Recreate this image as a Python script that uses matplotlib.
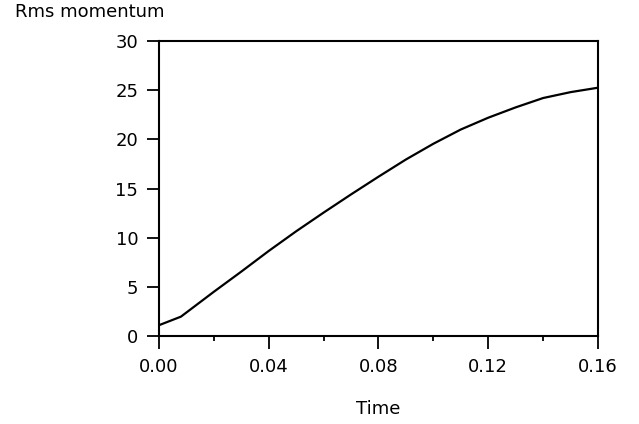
import matplotlib
matplotlib.use("Agg")
import matplotlib.pyplot as plt
from matplotlib.ticker import MultipleLocator

plt.rcParams['font.family'] = ['DejaVu Sans']

time = [0.0, 0.008, 0.02, 0.03, 0.04, 0.05, 0.06, 0.07, 0.08, 0.09,
        0.10, 0.11, 0.12, 0.13, 0.14, 0.15, 0.16]
rms_momentum = [1.1, 1.97, 4.5, 6.55, 8.65, 10.65, 12.55, 14.4, 16.2, 17.95,
                19.55, 21.0, 22.2, 23.25, 24.2, 24.8, 25.25]

x_ticks = [0.00, 0.04, 0.08, 0.12, 0.16]
x_tick_labels = ['0.00', '0.04', '0.08', '0.12', '0.16']
y_ticks = [0, 5, 10, 15, 20, 25, 30]

fig = plt.figure(figsize=(6.39, 4.24), dpi=100)
ax = fig.add_axes([0.2488, 0.2075, 0.687, 0.6958])

ax.plot(time, rms_momentum, color='black', lw=1.6)

ax.set_xlim(0, 0.16)
ax.set_ylim(0, 30)
ax.set_xticks(x_ticks)
ax.set_xticklabels(x_tick_labels)
ax.xaxis.set_minor_locator(MultipleLocator(0.02))
ax.set_yticks(y_ticks)

for s in ax.spines.values():
    s.set_linewidth(1.5)
    s.set_color('black')

ax.tick_params(axis='both', which='major', direction='out', length=9, width=1.3,
               labelsize=13, pad=6)
ax.tick_params(axis='x', which='major', pad=7)
ax.tick_params(axis='x', which='minor', direction='out', length=3.5, width=1.3)

ax.set_xlabel('Time', fontsize=13, labelpad=17)
fig.text(0.023, 0.972, 'Rms momentum', fontsize=13, ha='left', va='center')

fig.savefig('out.png', dpi=100)
